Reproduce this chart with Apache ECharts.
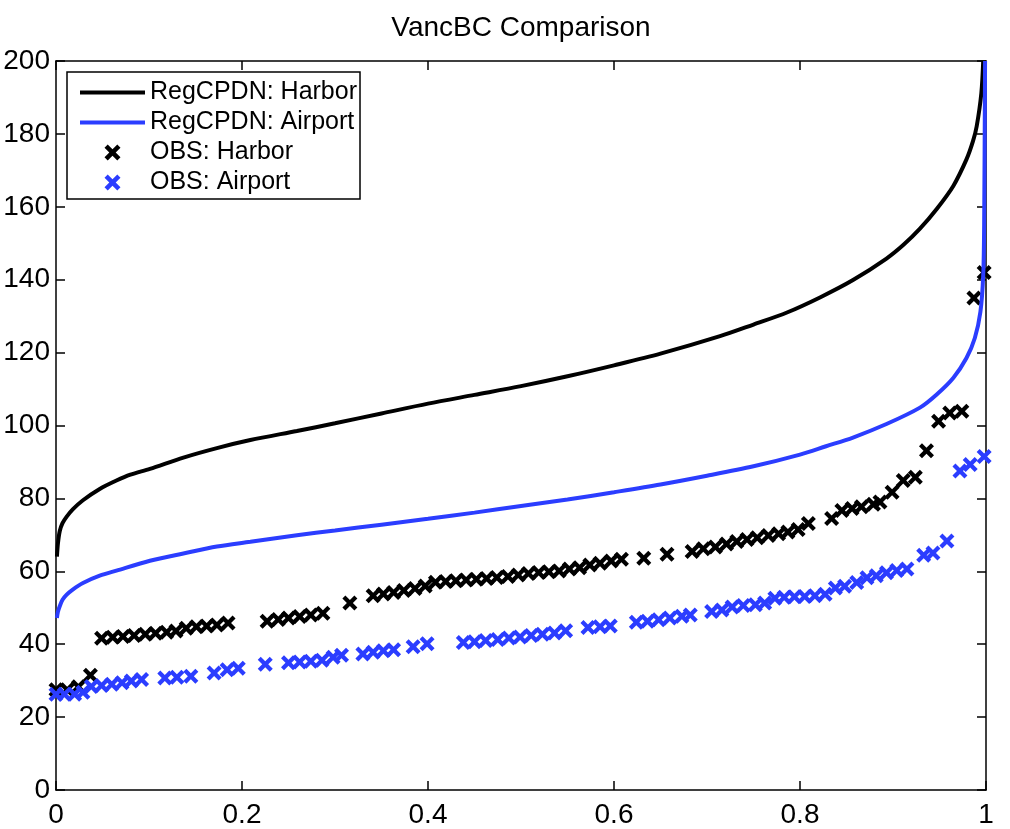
<!DOCTYPE html>
<html>
<head>
<meta charset="utf-8">
<script src="https://cdn.jsdelivr.net/npm/echarts/dist/echarts.min.js"></script>
<style>
html,body{margin:0;padding:0;background:#fff;}
#chart{width:1010px;height:829px;}
</style>
</head>
<body>
<div id="chart"></div>
<script>
// ---- data ----
const modelHarborP = [0.001,0.002,0.004,0.007,0.0115,0.018,0.029,0.047,0.065,0.08,0.101,0.137,0.173,0.209,0.259,0.3,0.35,0.4,0.45,0.5,0.55,0.6,0.65,0.714,0.75,0.786,0.822,0.857,0.893,0.911,0.929,0.947,0.965,0.979,0.986,0.990,0.995,0.997];
const modelHarborV = [64.0,67.5,71.0,73.2,75.0,77.0,79.5,82.6,84.9,86.5,88.1,91.2,93.8,96.0,98.5,100.6,103.3,106.0,108.4,110.8,113.5,116.5,119.7,124.5,127.7,131.0,135.2,139.9,145.8,149.5,154.0,159.4,165.8,173.0,178.0,182.1,191.2,200];

const modelAirportP = [0.001,0.002,0.004,0.007,0.0115,0.018,0.029,0.047,0.065,0.101,0.137,0.173,0.209,0.259,0.3,0.35,0.4,0.45,0.5,0.55,0.6,0.65,0.7,0.75,0.8,0.828,0.857,0.893,0.929,0.947,0.965,0.979,0.988,0.994,0.997,0.998,0.999];
const modelAirportV = [47.2,48.8,50.4,52.2,53.6,55.0,56.8,58.8,60.2,62.9,64.9,66.8,68.1,69.9,71.2,72.8,74.4,76.1,77.9,79.7,81.7,83.8,86.2,88.8,92.0,94.3,96.7,100.4,104.9,108.5,113.1,118.5,124.0,131.2,141.2,154.8,200];

const obsHarborP = [0.000,0.012,0.024,0.037,
  0.049,0.061,0.072,0.084,0.096,0.107,0.119,0.129,0.140,0.151,0.162,0.173,0.185,
  0.227,0.239,0.250,0.262,0.274,0.287,
  0.316,
  0.341,0.352,0.363,0.374,0.386,0.397,0.408,0.419,0.430,0.441,0.452,0.463,0.474,0.486,0.497,0.508,0.519,0.530,0.541,0.552,0.563,0.574,0.585,0.597,0.608,
  0.632,0.657,
  0.684,0.696,0.709,0.721,0.732,0.743,0.754,0.766,0.777,0.787,0.798,0.809,
  0.834,0.845,0.856,0.866,0.879,0.886,0.899,0.911,0.924,
  0.936,0.949,0.961,0.974,0.987,0.998];
const obsHarborV = [27.5,27.5,28.3,31.5,
  41.6,41.9,42.1,42.4,42.7,43.0,43.3,43.6,44.4,44.8,45.0,45.3,45.8,
  46.3,46.8,47.2,47.6,48.0,48.5,
  51.3,
  53.3,53.8,54.2,54.7,55.3,56.0,57.0,57.2,57.4,57.6,57.8,58.0,58.3,58.6,59.0,59.4,59.7,59.9,60.1,60.6,61.0,61.7,62.2,62.8,63.3,
  63.6,64.7,
  65.4,66.2,66.7,67.5,68.2,68.7,69.2,69.8,70.3,70.8,71.5,73.1,
  74.5,76.7,77.2,77.7,78.4,79.0,81.7,84.9,85.8,
  93.1,101.2,103.4,103.9,135.0,142.0];

const obsAirportP = [0.000,0.009,0.020,0.029,
  0.038,0.049,0.060,0.071,0.081,0.092,
  0.117,0.130,0.145,
  0.170,0.184,0.196,
  0.225,0.250,0.262,0.274,0.286,0.298,0.307,
  0.330,0.341,0.352,0.363,
  0.384,0.399,
  0.438,0.450,0.462,0.475,0.487,0.499,0.511,0.523,0.536,0.548,
  0.572,0.585,0.596,
  0.624,0.636,0.648,0.660,0.673,0.682,
  0.705,0.716,0.727,0.739,0.752,0.762,
  0.773,0.783,0.794,0.805,0.816,0.827,
  0.838,0.848,0.861,0.872,0.882,0.893,0.904,0.915,
  0.933,0.943,0.958,
  0.972,0.983,0.998];
const obsAirportV = [26.3,26.3,26.3,26.8,
  28.4,28.7,29.0,29.4,29.9,30.3,
  30.7,30.9,31.2,
  32.1,33.0,33.4,
  34.5,34.9,35.1,35.3,35.6,36.4,37.0,
  37.3,37.8,38.2,38.5,
  39.3,40.1,
  40.5,40.7,41.0,41.3,41.7,42.0,42.4,42.7,43.1,43.7,
  44.6,44.8,45.0,
  46.0,46.3,46.7,47.2,47.7,48.0,
  49.0,49.4,50.2,50.6,50.8,51.3,
  52.6,52.9,53.0,53.1,53.3,53.7,
  55.4,55.9,56.9,58.2,58.8,59.6,60.2,60.6,
  64.4,65.0,68.3,
  87.5,89.3,91.5];

const xTicks = [0, 0.2, 0.4, 0.6, 0.8, 1];
const yTicks = [0, 20, 40, 60, 80, 100, 120, 140, 160, 180, 200];

const seriesNames = ['RegCPDN: Harbor', 'RegCPDN: Airport', 'OBS: Harbor', 'OBS: Airport'];
const titleText = 'VancBC Comparison';

// ---- build ----
const zip = (a, b) => a.map((v, i) => [v, b[i]]);
const FONT = '"Liberation Sans", Arial, Helvetica, sans-serif';
const BLACK = '#000000';
const BLUE = '#2b3dff';
const CROSS = 'path://M0,20L20,0L50,30L80,0L100,20L70,50L100,80L80,100L50,70L20,100L0,80L30,50Z';
const BAR = 'path://M0,0L65,0L65,4L0,4Z';

const axisLineStyle = {color: BLACK, width: 1.5};
function xAxis(pos, labels) {
  return {
    type: 'value', position: pos, min: xTicks[0], max: xTicks[xTicks.length - 1],
    interval: xTicks[1] - xTicks[0],
    axisLine: {show: true, onZero: false, lineStyle: axisLineStyle},
    axisTick: {show: true, inside: true, length: 9, lineStyle: axisLineStyle},
    axisLabel: {show: labels, color: BLACK, fontSize: 28, fontFamily: FONT, margin: 11},
    splitLine: {show: false}
  };
}
function yAxis(pos, labels) {
  return {
    type: 'value', position: pos, min: yTicks[0], max: yTicks[yTicks.length - 1],
    interval: yTicks[1] - yTicks[0],
    axisLine: {show: true, onZero: false, lineStyle: axisLineStyle},
    axisTick: {show: true, inside: true, length: 9, lineStyle: axisLineStyle},
    axisLabel: {show: labels, color: BLACK, fontSize: 28, fontFamily: FONT, margin: 6},
    splitLine: {show: false}
  };
}

const chart = echarts.init(document.getElementById('chart'), null, {renderer: 'canvas'});
chart.setOption({
  animation: false,
  backgroundColor: '#ffffff',
  grid: {left: 56, right: 24, top: 61, bottom: 34, containLabel: false},
  graphic: [{
    type: 'text', x: 521, y: 28,
    style: {text: titleText, textAlign: 'center', textVerticalAlign: 'middle',
            fontSize: 28, fontFamily: FONT, fill: BLACK}
  }],
  legend: {
    orient: 'vertical', left: 67, top: 72,
    padding: [8, 3, 4, 13],
    itemWidth: 65, itemHeight: 16, itemGap: 5,
    borderColor: BLACK, borderWidth: 1.5, backgroundColor: '#ffffff',
    symbolKeepAspect: true,
    textStyle: {fontSize: 25, color: BLACK, fontFamily: FONT},
    data: [
      {name: seriesNames[0], icon: BAR},
      {name: seriesNames[1], icon: BAR},
      {name: seriesNames[2]},
      {name: seriesNames[3]}
    ]
  },
  xAxis: [xAxis('bottom', true), xAxis('top', false)],
  yAxis: [yAxis('left', true), yAxis('right', false)],
  series: [
    {name: seriesNames[0], type: 'line', data: zip(modelHarborP, modelHarborV),
     symbol: 'none', smooth: 0.3, lineStyle: {color: BLACK, width: 4}, itemStyle: {color: BLACK}},
    {name: seriesNames[1], type: 'line', data: zip(modelAirportP, modelAirportV),
     symbol: 'none', smooth: 0.3, lineStyle: {color: BLUE, width: 4}, itemStyle: {color: BLUE}},
    {name: seriesNames[2], type: 'scatter', data: zip(obsHarborP, obsHarborV),
     symbol: CROSS, symbolSize: 15, itemStyle: {color: BLACK, opacity: 1}},
    {name: seriesNames[3], type: 'scatter', data: zip(obsAirportP, obsAirportV),
     symbol: CROSS, symbolSize: 15, itemStyle: {color: BLUE, opacity: 1}}
  ]
});
</script>
</body>
</html>
